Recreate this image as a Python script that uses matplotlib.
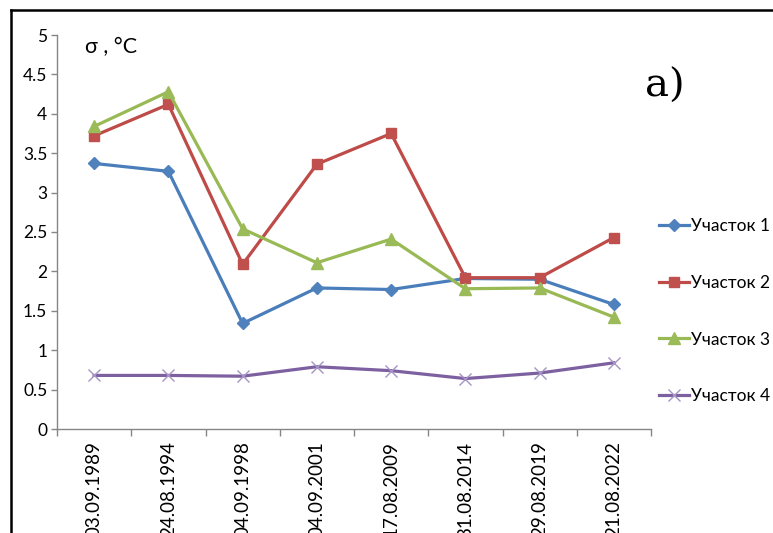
import numpy as np
import matplotlib.pyplot as plt
from matplotlib.lines import Line2D

# Survey dates and standard deviation of temperature for each site
dates = ["03.09.1989", "24.08.1994", "04.09.1998", "04.09.2001",
         "17.08.2009", "31.08.2014", "29.08.2019", "21.08.2022"]
site1 = [3.37, 3.27, 1.34, 1.79, 1.77, 1.91, 1.90, 1.58]
site2 = [3.72, 4.12, 2.09, 3.36, 3.75, 1.92, 1.92, 2.43]
site3 = [3.84, 4.28, 2.54, 2.11, 2.41, 1.78, 1.79, 1.42]
site4 = [0.68, 0.68, 0.67, 0.79, 0.74, 0.64, 0.71, 0.84]
labels = ["Участок 1", "Участок 2", "Участок 3", "Участок 4"]

plt.rcParams['font.family'] = ['Lato', 'DejaVu Sans']

W, H = 773, 533
fig = plt.figure(figsize=(W / 100, H / 100), dpi=100)
ax = fig.add_axes([57 / W, 1 - 429 / H, (651 - 57) / W, (429 - 35) / H])

x = np.arange(len(dates)) + 0.5
styles = [
    dict(color="#4A7EBB", marker="D", ms=6.5, mfc="#4F81BD", mec="#4F81BD"),
    dict(color="#BE4B48", marker="s", ms=7.5, mfc="#C0504D", mec="#C0504D"),
    dict(color="#98B954", marker="^", ms=8.5, mfc="#9BBB59", mec="#9BBB59"),
    dict(color="#7D60A0", marker="x", ms=8, mfc="#A594C4", mec="#A594C4", mew=1.0),
]
for ys, lab, st in zip([site1, site2, site3, site4], labels, styles):
    ax.plot(x, ys, lw=2.3, label=lab, **st)

ax.set_xlim(0, len(dates))
ax.set_ylim(0, 5)
ax.set_yticks(np.arange(0, 5.01, 0.5))
ax.set_yticklabels(["0", "0.5", "1", "1.5", "2", "2.5", "3", "3.5", "4", "4.5", "5"])
ax.set_xticks(x)
ax.set_xticklabels(dates, rotation=90, va="top")
ax.set_xticks(np.arange(0, len(dates) + 1), minor=True)

axis_col = "#868686"
for s in ["top", "right"]:
    ax.spines[s].set_visible(False)
for s in ["left", "bottom"]:
    ax.spines[s].set_color(axis_col)
    ax.spines[s].set_linewidth(1.0)
ax.tick_params(axis="y", length=4, width=1, color=axis_col, pad=3, labelsize=12.5)
ax.tick_params(axis="x", which="major", length=0, pad=9, labelsize=13.5)
ax.tick_params(axis="x", which="minor", length=5, width=1, color=axis_col)

fig.text(85 / W, 1 - 47 / H, "σ , °C", fontsize=15.5, va="center", ha="left")
fig.text(645 / W, 1 - 86 / H, "a)", fontsize=29, family="DejaVu Serif",
         va="center", ha="left")

leg = fig.legend(loc="upper left", bbox_to_anchor=(652 / W, 1 - 211 / H),
                 frameon=False, fontsize=12.5, handlelength=1.75,
                 handletextpad=0.1, labelspacing=2.35, borderaxespad=0)

# outer frame of the panel
fig.add_artist(Line2D([11 / W, 11 / W], [0, 1 - 10 / H],
                      transform=fig.transFigure, color="black", lw=1.8))
fig.add_artist(Line2D([11 / W, 1], [1 - 10 / H, 1 - 10 / H],
                      transform=fig.transFigure, color="black", lw=1.8))

fig.savefig("out.png", dpi=100)
